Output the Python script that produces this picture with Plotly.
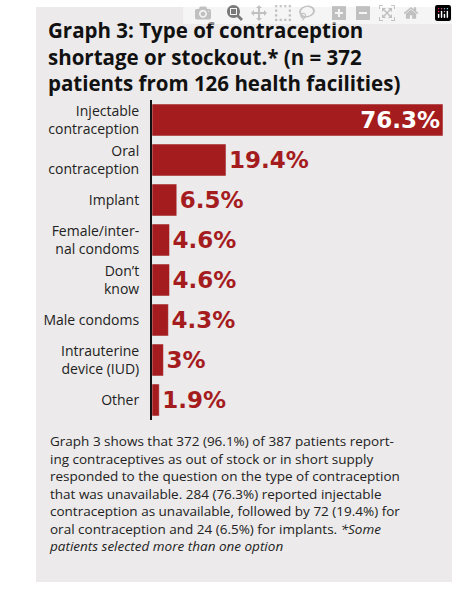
import plotly.graph_objects as go

categories = ["Injectable<br>contraception", "Oral<br>contraception", "Implant",
              "Female/inter-<br>nal condoms", "Don’t<br>know", "Male condoms",
              "Intrauterine<br>device (IUD)", "Other"]
values = [76.3, 19.4, 6.5, 4.6, 4.6, 4.3, 3.0, 1.9]
labels = ["76.3%", "19.4%", "6.5%", "4.6%", "4.6%", "4.3%", "3%", "1.9%"]

red = "#A51C1E"
fig = go.Figure(go.Bar(
    y=categories, x=values, orientation="h", marker_color=red,
    text=labels, textposition=["inside"] + ["outside"] * 7,
    insidetextanchor="end",
    textfont=dict(family="DejaVu Sans", size=23, color=["white"] + [red] * 7, weight="bold"),
    cliponaxis=False,
))
W, H = 457, 590
L, R, T, B = 152, 14, 100, 170
fig.update_layout(
    width=W, height=H, margin=dict(l=L, r=R, t=T, b=B),
    paper_bgcolor="white", plot_bgcolor="rgba(0,0,0,0)", showlegend=False,
    bargap=0.2,
    xaxis=dict(range=[0, 76.3], visible=False),
    yaxis=dict(autorange="reversed", showgrid=False, ticks="", showline=True,
               linecolor="#111", linewidth=2, ticklabelstandoff=8,
               tickfont=dict(family="Open Sans", size=14, color="#222")),
)
ph = H - T - B
def py(pix):
    return (H - B - pix) / ph
def px(pix):
    return (pix - L) / (W - L - R)
fig.add_shape(type="rect", xref="paper", yref="paper", x0=px(36), x1=px(452),
              y0=py(582), y1=py(7), fillcolor="#ECEAEA", line_width=0, layer="below")
fig.add_annotation(xref="paper", yref="paper", x=px(46), y=py(14), xanchor="left", yanchor="top",
                   align="left", showarrow=False,
                   text="<b>Graph 3: Type of contraception<br>shortage or stockout.* (n = 372<br>patients from 126 health facilities)</b>",
                   font=dict(family="Open Sans", size=20.5, color="#111"))
body = ("Graph 3 shows that 372 (96.1%) of 387 patients report-<br>"
        "ing contraceptives as out of stock or in short supply<br>"
        "responded to the question on the type of contraception<br>"
        "that was unavailable. 284 (76.3%) reported injectable<br>"
        "contraception as unavailable, followed by 72 (19.4%) for<br>"
        "oral contraception and 24 (6.5%) for implants. <i>*Some<br>"
        "patients selected more than one option</i>")
fig.add_annotation(xref="paper", yref="paper", x=px(47), y=py(430), xanchor="left", yanchor="top",
                   align="left", showarrow=False, text=body,
                   font=dict(family="Open Sans", size=13.5, color="#222"))
fig.write_html("out.html")
with open("out.html", encoding="utf-8") as f:
    html = f.read()
html = html.replace("<body>", '<body style="margin:0">', 1)
with open("out.html", "w", encoding="utf-8") as f:
    f.write(html)
